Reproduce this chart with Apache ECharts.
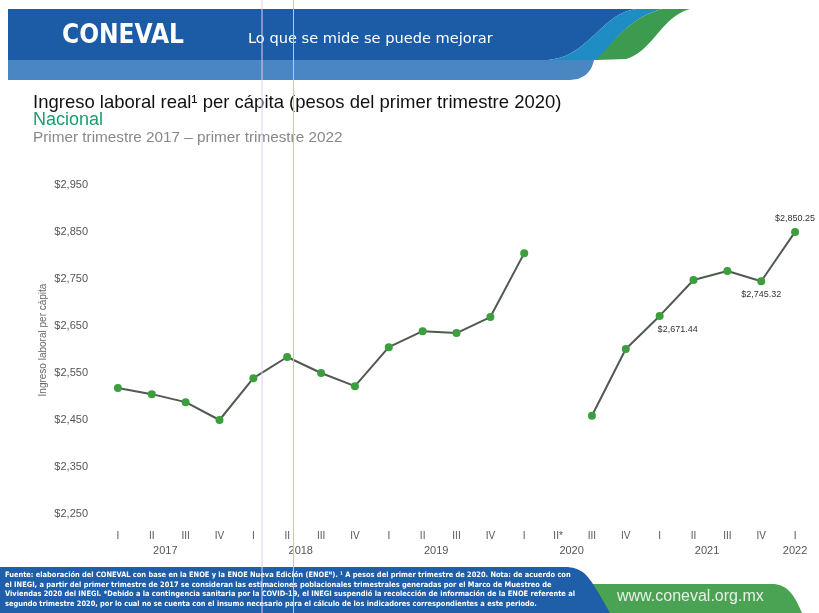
<!DOCTYPE html>
<html>
<head>
<meta charset="utf-8">
<script src="https://cdn.jsdelivr.net/npm/echarts@6/dist/echarts.min.js"></script>
<style>
  html, body { margin: 0; padding: 0; background: #fff; }
  #chart { width: 819px; height: 613px; }
</style>
</head>
<body>
<div id="chart"></div>
<script>
  // trimestres 2017-I a 2022-I (II de 2020 sin levantamiento)
  const quarters = ['I','II','III','IV','I','II','III','IV','I','II','III','IV','I','II*','III','IV','I','II','III','IV','I']
  const ingreso = [2518, 2505, 2488, 2450, 2539, 2584, 2550, 2522, 2605, 2639, 2635, 2669, 2805, null, 2459, 2601, 2671.44, 2748, 2767, 2745.32, 2850.25]
  const years = ['2017', '2018', '2019', '2020', '2021', '2022']
  const yearPos = [1.9, 5.9, 9.9, 13.9, 17.9, 20.5]
  const labelsBelow = [16, 19]
  const labelsAbove = [20]

  const money = v => '$' + v.toLocaleString('en-US')
  const money2 = v => '$' + v.toLocaleString('en-US', {minimumFractionDigits: 2, maximumFractionDigits: 2})

  let seriesData = ingreso.map((v, i) => {
    if (labelsBelow.indexOf(i) >= 0) {
      return {value: v, label: {show: true, position: 'bottom', offset: [i == 16 ? 18 : 0, 0]}}
    }
    if (labelsAbove.indexOf(i) >= 0) {
      return {value: v, label: {show: true, position: 'top'}}
    }
    return v
  })

  const footer = [
    'Fuente: elaboración del CONEVAL con base en la ENOE y la ENOE Nueva Edición (ENOEᴺ). ¹ A pesos del primer trimestre de 2020. Nota: de acuerdo con',
    'el INEGI, a partir del primer trimestre de 2017 se consideran las estimaciones poblacionales trimestrales generadas por el Marco de Muestreo de',
    'Viviendas 2020 del INEGI. *Debido a la contingencia sanitaria por la COVID-19, el INEGI suspendió la recolección de información de la ENOE referente al',
    'segundo trimestre 2020, por lo cual no se cuenta con el insumo necesario para el cálculo de los indicadores correspondientes a este periodo.'
  ]

  // convierte un trazo tipo SVG (M/L/C/Q) en puntos para un polígono
  function shapePts(cmds) {
    let pts = []
    let cx = 0, cy = 0
    cmds.forEach(c => {
      if (c[0] == 'M' || c[0] == 'L') {
        cx = c[1]; cy = c[2]; pts.push([cx, cy])
      } else if (c[0] == 'C') {
        for (let t = 0.05; t <= 1.001; t += 0.05) {
          let u = 1 - t
          let x = u*u*u*cx + 3*u*u*t*c[1] + 3*u*t*t*c[3] + t*t*t*c[5]
          let y = u*u*u*cy + 3*u*u*t*c[2] + 3*u*t*t*c[4] + t*t*t*c[6]
          pts.push([x, y])
        }
        cx = c[5]; cy = c[6]
      } else if (c[0] == 'Q') {
        for (let t = 0.05; t <= 1.001; t += 0.05) {
          let u = 1 - t
          let x = u*u*cx + 2*u*t*c[1] + t*t*c[3]
          let y = u*u*cy + 2*u*t*c[2] + t*t*c[4]
          pts.push([x, y])
        }
        cx = c[3]; cy = c[4]
      }
    })
    return pts
  }
  function poly(cmds, fill) {
    return {type: 'polygon', shape: {points: shapePts(cmds)}, style: {fill: fill}}
  }

  let myChart = echarts.init(document.getElementById('chart'))
  let option = {
    animation: false,
    backgroundColor: '#fff',
    textStyle: {fontFamily: 'Liberation Sans'},
    graphic: [
      // banda superior
      poly([['M', 8, 60], ['L', 594, 60], ['Q', 590, 79, 570, 80], ['L', 8, 80]], '#4a86c2'),
      poly([['M', 8, 9], ['L', 636, 9], ['C', 600, 14, 590, 56, 548, 60], ['L', 8, 60]], '#1c5ca6'),
      poly([['M', 636, 9], ['L', 662, 9], ['C', 628, 18, 612, 44, 598, 60], ['L', 548, 60], ['C', 590, 56, 600, 14, 636, 9]], '#1f8dc3'),
      poly([['M', 662, 9], ['L', 690, 9], ['C', 662, 16, 652, 52, 626, 59], ['L', 596, 60], ['C', 612, 44, 628, 18, 662, 9]], '#3d9b4f'),
      {type: 'text', left: 62, top: 23, style: {text: 'CONEVAL', fill: '#fff', font: 'bold 26px "DejaVu Sans Condensed"'}},
      {type: 'text', left: 248, top: 32, style: {text: 'Lo que se mide se puede mejorar', fill: '#fff', font: '14.6px "DejaVu Sans"'}},
      // titulos
      {type: 'text', left: 33, top: 93, style: {text: 'Ingreso laboral real¹ per cápita (pesos del primer trimestre 2020)', fill: '#111', font: '18.5px "Liberation Sans"'}},
      {type: 'text', left: 33, top: 111, style: {text: 'Nacional', fill: '#17a06c', font: '18px "Liberation Sans"'}},
      {type: 'text', left: 33, top: 130, style: {text: 'Primer trimestre 2017 – primer trimestre 2022', fill: '#888', font: '15.3px "Liberation Sans"'}},
      // titulo del eje y
      {type: 'text', x: 43, y: 340, rotation: Math.PI / 2, style: {text: 'Ingreso laboral per cápita', fill: '#666', font: '10px "Liberation Sans"', textAlign: 'center', textVerticalAlign: 'middle'}},
      // pie
      poly([['M', 570, 584], ['L', 772, 584], ['C', 790, 584, 796, 600, 802, 613], ['L', 570, 613]], '#4aa352'),
      poly([['M', 0, 567], ['L', 565, 567], ['C', 585, 567, 590, 580, 598, 592], ['L', 610, 613], ['L', 0, 613]], '#1f5ea8'),
      {type: 'text', left: 5, top: 570, style: {text: footer.join('\n'), fill: '#fff', font: 'bold 7.4px "DejaVu Sans Condensed"', lineHeight: 9.8}},
      {type: 'text', left: 617, top: 589, style: {text: 'www.coneval.org.mx', fill: '#e8efe8', font: '16px "Liberation Sans"'}},
      // marcas del escaneo
      {type: 'line', shape: {x1: 262, y1: 0, x2: 262, y2: 613}, style: {stroke: '#ddd0f2', lineWidth: 1}, z: 10},
      {type: 'line', shape: {x1: 293.5, y1: 0, x2: 293.5, y2: 613}, style: {stroke: '#f2a8ea', lineWidth: 1}, z: 10}
    ],
    grid: {left: 101, right: 7, top: 185, bottom: 99},
    xAxis: [
      {
        type: 'category',
        data: quarters,
        axisLine: {show: false},
        axisTick: {show: false},
        axisLabel: {color: '#555', fontSize: 10, margin: 17, interval: 0}
      },
      {
        type: 'value',
        min: 0,
        max: 21,
        interval: 0.1,
        position: 'bottom',
        axisLine: {show: false},
        axisTick: {show: false},
        splitLine: {show: false},
        axisLabel: {
          color: '#555', fontSize: 11, margin: 31, showMinLabel: true, showMaxLabel: true,
          formatter: v => {
            let k = yearPos.findIndex(p => Math.abs(p - v) < 0.01)
            return k >= 0 ? years[k] : ''
          }
        }
      }
    ],
    yAxis: {
      type: 'value',
      min: 2250,
      max: 2950,
      interval: 100,
      axisLine: {show: false},
      axisTick: {show: false},
      splitLine: {show: false},
      axisLabel: {color: '#555', fontSize: 11, margin: 13, formatter: money}
    },
    series: [{
      type: 'line',
      xAxisIndex: 0,
      data: seriesData,
      connectNulls: false,
      symbol: 'circle',
      symbolSize: 8,
      lineStyle: {color: '#505a50', width: 2},
      itemStyle: {color: '#3c9e3c'},
      label: {show: false, color: '#333', fontSize: 9, formatter: p => money2(p.value)}
    }]
  }
  myChart.setOption(option)
</script>
</body>
</html>
